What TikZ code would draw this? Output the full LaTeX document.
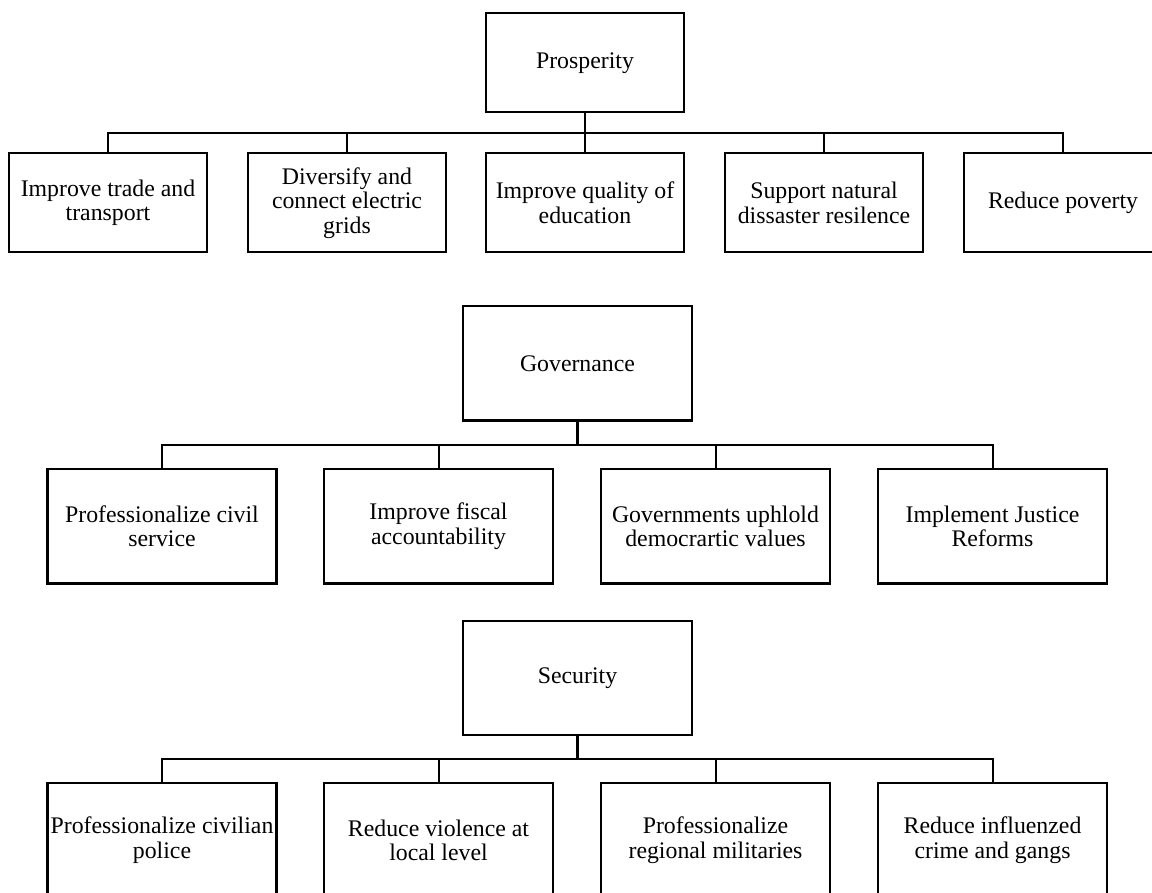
\documentclass[tikz,border=0pt]{standalone}
\usepackage{fontspec}
\setmainfont{Liberation Serif}
\begin{document}
\begin{tikzpicture}[x=1pt,y=-1pt,
  boxA/.style={draw=black,line width=2.4pt,rectangle,inner sep=0pt,align=center,
    font=\fontsize{23.8}{24.5}\selectfont},
  topbox/.style={boxA,minimum width=198pt,minimum height=99pt},
  headA/.style={boxA,minimum width=198pt,minimum height=99pt},
  headB/.style={boxA,minimum width=229pt,minimum height=114.5pt},
  midbox/.style={boxA,minimum width=229pt,minimum height=114.5pt},
  link/.style={draw=black,line width=2pt},
  trunk/.style={draw=black,line width=2.8pt}]
\useasboundingbox (0,0) rectangle (1152,893);
\clip (0,0) rectangle (1152,893);

% Prosperity
\node[headA] (P) at (585,62.8) {Prosperity};
\node[topbox] (P1) at (108,202.8) {Improve trade and\\transport};
\node[topbox] (P2) at (347,202.8) {Diversify and\\connect electric\\grids};
\node[topbox] (P3) at (585,202.8) {Improve quality of\\education};
\node[topbox] (P4) at (824,202.8) {Support natural\\dissaster resilence};
\node[topbox] (P5) at (1063,202.8) {Reduce poverty};
\coordinate (pb) at (585,132.7);
\draw[trunk] (P.south) -- (pb);
\draw[link] (P1.north) -- (P1.north |- pb) -- (P5.north |- pb) -- (P5.north);
\foreach \c in {P2,P3,P4} \draw[link] (\c.north) -- (\c.north |- pb);

% Governance
\node[headB] (G) at (577.5,363.3) {Governance};
\node[midbox] (G1) at (162,526.3) {Professionalize civil\\service};
\node[midbox] (G2) at (438.5,526.3) {Improve fiscal\\accountability};
\node[midbox] (G3) at (715.5,526.3) {Governments uphlold\\democrartic values};
\node[midbox] (G4) at (992.5,526.3) {Implement Justice\\Reforms};
\coordinate (gb) at (577.5,444.7);
\draw[trunk] (G.south) -- (gb);
\draw[link] (G1.north) -- (G1.north |- gb) -- (G4.north |- gb) -- (G4.north);
\foreach \c in {G2,G3} \draw[link] (\c.north) -- (\c.north |- gb);

% Security
\node[headB] (S) at (577.5,678) {Security};
\node[midbox] (S1) at (162,840.3) {Professionalize civilian\\police};
\node[midbox] (S2) at (438.5,840.3) {Reduce violence at\\local level};
\node[midbox] (S3) at (715.5,840.3) {Professionalize\\regional militaries};
\node[midbox] (S4) at (992.5,840.3) {Reduce influenzed\\crime and gangs};
\coordinate (sb) at (577.5,759.3);
\draw[trunk] (S.south) -- (sb);
\draw[link] (S1.north) -- (S1.north |- sb) -- (S4.north |- sb) -- (S4.north);
\foreach \c in {S2,S3} \draw[link] (\c.north) -- (\c.north |- sb);
\end{tikzpicture}
\end{document}
